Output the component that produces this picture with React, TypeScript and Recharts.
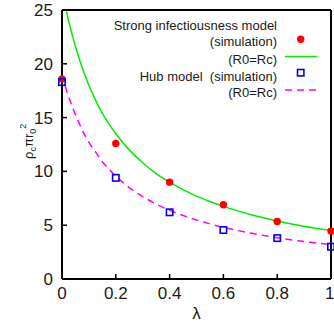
import React from "react";
import {
  ComposedChart,
  Line,
  Scatter,
  XAxis,
  YAxis,
} from "recharts";

// simulation points
const lambdaSim = [0, 0.2, 0.4, 0.6, 0.8, 1.0];
const strongSim = [18.6, 12.6, 9.0, 6.9, 5.35, 4.45];
const hubSim = [18.3, 9.4, 6.2, 4.55, 3.8, 3.0];

// R0=Rc curves
const curveLambda = [
  0, 0.016, 0.02, 0.04, 0.06, 0.08, 0.1, 0.125, 0.15, 0.175, 0.2, 0.25, 0.3,
  0.35, 0.4, 0.45, 0.5, 0.55, 0.6, 0.7, 0.8, 0.9, 1.0,
];
const strongCurve = [
  null, 25.0, 24.5, 22.5, 20.8, 19.3, 18.0, 16.6, 15.4, 14.4, 13.5, 12.0, 10.8,
  9.8, 9.0, 8.3, 7.7, 7.2, 6.75, 6.0, 5.4, 4.9, 4.5,
];
const hubCurve = [
  19.0, 17.6, 17.3, 15.9, 14.7, 13.6, 12.7, 11.8, 10.9, 10.2, 9.57, 8.5, 7.66,
  6.97, 6.39, 5.9, 5.48, 5.12, 4.8, 4.27, 3.84, 3.49, 3.2,
];

const xTicks = [0, 0.2, 0.4, 0.6, 0.8, 1];
const yTicks = [0, 5, 10, 15, 20, 25];

const FONT = '"Liberation Sans", Arial, Helvetica, sans-serif';
const INK = "#1a1a1a";
const RED = "#ff0000";
const GREEN = "#00ee00";
const BLUE = "#0000ff";
const MAGENTA = "#ff00ff";

const curveData = curveLambda.map((l, i) => ({
  lambda: l,
  strong: strongCurve[i],
  hub: hubCurve[i],
}));
const strongPts = lambdaSim.map((l, i) => ({ lambda: l, value: strongSim[i] }));
const hubPts = lambdaSim.map((l, i) => ({ lambda: l, value: hubSim[i] }));

const fmtX = (v: number) => (v === 0 ? "0" : v === 1 ? "1" : v.toFixed(1));

function Dot(props: any) {
  const { cx, cy } = props;
  return <circle cx={cx} cy={cy} r={3.7} fill={RED} />;
}

function Square(props: any) {
  const { cx, cy } = props;
  return (
    <rect x={cx - 3.2} y={cy - 3.2} width={6.4} height={6.4} fill="none" stroke={BLUE} strokeWidth={1.6} />
  );
}

const axisLine = { stroke: "#000", strokeWidth: 2 };
const tickLine = { stroke: "#000", strokeWidth: 1.5 };
const tickFont = { fontSize: 17, fill: INK, fontFamily: FONT };

export default function App() {
  return (
    <div style={{ position: "absolute", left: 0, top: 0, width: 334, height: 324, background: "#fff" }}>
      <ComposedChart
        width={334}
        height={324}
        margin={{ top: 0, right: 0, bottom: 0, left: 0 }}
      >
        <XAxis
          xAxisId="x"
          dataKey="lambda"
          type="number"
          domain={[0, 1]}
          ticks={xTicks}
          tickFormatter={fmtX}
          height={45}
          tickSize={-5}
          tickMargin={13}
          axisLine={axisLine}
          tickLine={tickLine}
          tick={tickFont}
        />
        <XAxis
          xAxisId="top"
          orientation="top"
          type="number"
          domain={[0, 1]}
          ticks={xTicks}
          tickFormatter={() => ""}
          height={10}
          tickSize={-5}
          axisLine={axisLine}
          tickLine={tickLine}
        />
        <YAxis
          yAxisId="y"
          type="number"
          domain={[0, 25]}
          ticks={yTicks}
          width={62}
          tickSize={-5}
          tickMargin={14}
          axisLine={axisLine}
          tickLine={tickLine}
          tick={tickFont}
          allowDataOverflow
        />
        <YAxis
          yAxisId="right"
          orientation="right"
          type="number"
          domain={[0, 25]}
          ticks={yTicks}
          tickFormatter={() => ""}
          width={3}
          tickSize={-5}
          axisLine={axisLine}
          tickLine={tickLine}
        />
        <Line
          xAxisId="x"
          yAxisId="y"
          data={curveData}
          dataKey="strong"
          type="monotone"
          stroke={GREEN}
          strokeWidth={1.5}
          dot={false}
          isAnimationActive={false}
        />
        <Line
          xAxisId="x"
          yAxisId="y"
          data={curveData}
          dataKey="hub"
          type="monotone"
          stroke={MAGENTA}
          strokeWidth={1.5}
          strokeDasharray="7 5"
          dot={false}
          isAnimationActive={false}
        />
        <Scatter
          xAxisId="x"
          yAxisId="y"
          data={strongPts}
          dataKey="value"
          shape={<Dot />}
          isAnimationActive={false}
        />
        <Scatter
          xAxisId="x"
          yAxisId="y"
          data={hubPts}
          dataKey="value"
          shape={<Square />}
          isAnimationActive={false}
        />
      </ComposedChart>
      <svg
        width={334}
        height={324}
        style={{ position: "absolute", left: 0, top: 0, pointerEvents: "none" }}
      >
        <g fontFamily={FONT} fontSize={13} fill={INK} textAnchor="end">
          <text x={277} y={29.5}>Strong infectiousness model</text>
          <text x={277} y={46}>(simulation)</text>
          <text x={277} y={63.5}>(R0=Rc)</text>
          <text x={277} y={80.5}>{"Hub model\u00a0 (simulation)"}</text>
          <text x={277} y={97}>(R0=Rc)</text>
        </g>
        <circle cx={300.7} cy={39.3} r={3.7} fill={RED} />
        <line x1={285} x2={317} y1={56.5} y2={56.5} stroke={GREEN} strokeWidth={1.5} />
        <rect x={297.5} y={69.5} width={6.4} height={6.4} fill="none" stroke={BLUE} strokeWidth={1.6} />
        <line x1={285} x2={317} y1={90} y2={90} stroke={MAGENTA} strokeWidth={1.5} strokeDasharray="7 5" />
        <text x={196.5} y={319} fontFamily={FONT} fontSize={17} fill={INK} textAnchor="middle">
          λ
        </text>
        <text
          transform="translate(33,159) rotate(-90)"
          fontFamily={FONT}
          fontSize={13}
          fill={INK}
        >
          ρ
          <tspan fontSize={9} dy={3}>c</tspan>
          <tspan dy={-3}>πr</tspan>
          <tspan fontSize={9} dy={3}>0</tspan>
          <tspan fontSize={9} dy={-10}>2</tspan>
        </text>
      </svg>
    </div>
  );
}
